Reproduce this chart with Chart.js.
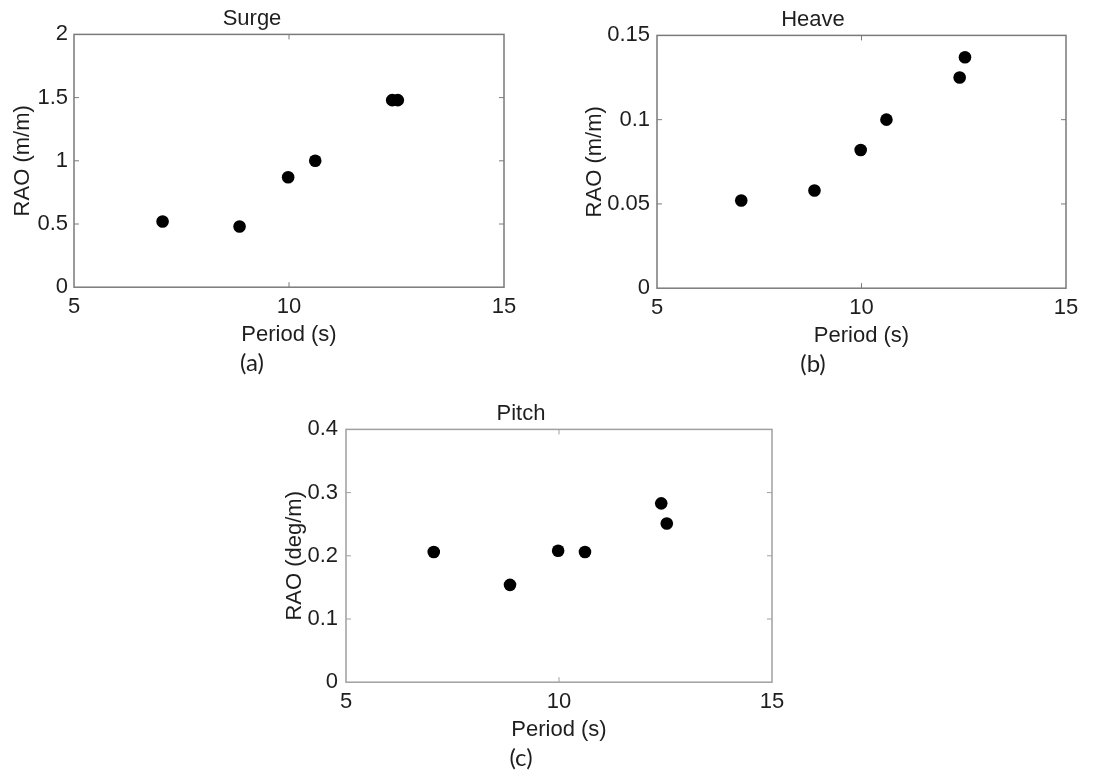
<!DOCTYPE html>
<html>
<head>
<meta charset="utf-8">
<title>RAO vs period</title>
<script src="https://cdn.jsdelivr.net/npm/chart.js@4/dist/chart.umd.min.js"></script>
<style>
  html, body { margin: 0; padding: 0; background: #ffffff; }
  #wrap { position: relative; width: 1102px; height: 780px; overflow: hidden; background: #ffffff; }
  #wrap canvas { position: absolute; }
</style>
</head>
<body>
<div id="wrap">
  <canvas id="surge" width="540" height="378" style="left:0px;top:0px"></canvas>
  <canvas id="heave" width="542" height="378" style="left:560px;top:1px"></canvas>
  <canvas id="pitch" width="538" height="378" style="left:270px;top:395px"></canvas>
</div>
<script>
// Wave periods of the test runs (s)
const periods = [7.06, 8.85, 9.98, 10.61, 12.4, 12.53];

// Measured response amplitude operators
const surgeRAO = [0.52, 0.48, 0.87, 1.0, 1.48, 1.48];     // m/m
const heaveRAO = [0.052, 0.058, 0.082, 0.1, 0.125, 0.137]; // m/m
const pitchRAO = [0.206, 0.154, 0.208, 0.206, 0.283, 0.251]; // deg/m

// Axis ticks
const periodTicks = [5, 10, 15];
const periodTickLabels = ['5', '10', '15'];
const surgeTicks = [0, 0.5, 1, 1.5, 2];
const surgeTickLabels = ['0', '0.5', '1', '1.5', '2'];
const heaveTicks = [0, 0.05, 0.1, 0.15];
const heaveTickLabels = ['0', '0.05', '0.1', '0.15'];
const pitchTicks = [0, 0.1, 0.2, 0.3, 0.4];
const pitchTickLabels = ['0', '0.1', '0.2', '0.3', '0.4'];

const TEXT = '#1e1e1e';
const FONT = 'Liberation Sans, Arial, Helvetica, sans-serif';

// Box around the plot area with small inward ticks on all four sides
const boxFrame = {
  id: 'boxFrame',
  afterDraw(chart, args, opts) {
    const { ctx, chartArea: a, scales } = chart;
    ctx.save();
    ctx.strokeStyle = opts.color;
    ctx.lineWidth = 1.5;
    ctx.strokeRect(a.left, a.top, a.right - a.left, a.bottom - a.top);
    const len = 5;
    ctx.lineWidth = 1;
    ctx.beginPath();
    scales.x.ticks.forEach(t => {
      const px = scales.x.getPixelForValue(t.value);
      if (px <= a.left + 1 || px >= a.right - 1) return;
      ctx.moveTo(px, a.bottom); ctx.lineTo(px, a.bottom - len);
      ctx.moveTo(px, a.top); ctx.lineTo(px, a.top + len);
    });
    scales.y.ticks.forEach(t => {
      const py = scales.y.getPixelForValue(t.value);
      if (py <= a.top + 1 || py >= a.bottom - 1) return;
      ctx.moveTo(a.left, py); ctx.lineTo(a.left + len, py);
      ctx.moveTo(a.right, py); ctx.lineTo(a.right - len, py);
    });
    ctx.stroke();
    ctx.restore();
  }
};

function fixedTicks(values) {
  return function (scale) {
    scale.ticks = values.map(v => ({ value: v }));
  };
}

function labelFor(values, labels) {
  return function (value) {
    const i = values.findIndex(v => Math.abs(v - value) < 1e-9);
    return i >= 0 ? labels[i] : '';
  };
}

function makePanel(id, cfg) {
  return new Chart(document.getElementById(id), {
    type: 'scatter',
    data: {
      datasets: [{
        data: periods.map((p, i) => ({ x: p, y: cfg.values[i] })),
        pointRadius: 6.3,
        pointHoverRadius: 6.3,
        pointBackgroundColor: '#000000',
        pointBorderWidth: 0,
        showLine: false
      }]
    },
    options: {
      responsive: false,
      animation: false,
      devicePixelRatio: 1,
      layout: { padding: { left: 0, right: 36, top: 0, bottom: 0 } },
      plugins: {
        legend: { display: false },
        tooltip: { enabled: false },
        title: {
          display: true,
          text: cfg.title,
          color: TEXT,
          font: { family: FONT, size: 22, weight: 'normal' },
          padding: { top: 6, bottom: 2 }
        },
        subtitle: {
          display: true,
          text: cfg.tag,
          position: 'bottom',
          color: TEXT,
          font: { family: 'Lato, Open Sans, sans-serif', size: 24, weight: 'normal' },
          padding: 0
        },
        boxFrame: { color: cfg.frame }
      },
      scales: {
        x: {
          type: 'linear',
          min: 5, max: 15,
          afterBuildTicks: fixedTicks(periodTicks),
          afterFit: s => { s.height = 62; },
          grid: { display: false, drawTicks: false },
          border: { display: false },
          ticks: {
            color: TEXT, padding: 7, maxRotation: 0,
            font: { family: FONT, size: 22 },
            callback: labelFor(periodTicks, periodTickLabels)
          },
          title: {
            display: true, text: 'Period (s)', color: TEXT,
            font: { family: FONT, size: 22 },
            padding: { top: 0, bottom: 1 }
          }
        },
        y: {
          type: 'linear',
          min: cfg.ticks[0], max: cfg.ticks[cfg.ticks.length - 1],
          afterBuildTicks: fixedTicks(cfg.ticks),
          afterFit: s => { s.width = cfg.yWidth; },
          grid: { display: false, drawTicks: false },
          border: { display: false },
          ticks: {
            color: TEXT, padding: cfg.tickPad,
            font: { family: FONT, size: 22 },
            callback: labelFor(cfg.ticks, cfg.labels)
          },
          title: {
            display: true, text: cfg.yTitle, color: TEXT,
            font: { family: FONT, size: 22 },
            padding: { top: cfg.titlePad, bottom: 0 }
          }
        }
      }
    },
    plugins: [boxFrame]
  });
}

makePanel('surge', {
  title: 'Surge', tag: '(a)', values: surgeRAO,
  ticks: surgeTicks, labels: surgeTickLabels,
  yTitle: 'RAO (m/m)', yWidth: 74, tickPad: 6, titlePad: 10, frame: '#7a7a7a'
});
makePanel('heave', {
  title: 'Heave', tag: '(b)', values: heaveRAO,
  ticks: heaveTicks, labels: heaveTickLabels,
  yTitle: 'RAO (m/m)', yWidth: 97, tickPad: 7, titlePad: 22, frame: '#7a7a7a'
});
makePanel('pitch', {
  title: 'Pitch', tag: '(c)', values: pitchRAO,
  ticks: pitchTicks, labels: pitchTickLabels,
  yTitle: 'RAO (deg/m)', yWidth: 76, tickPad: 8, titlePad: 12, frame: '#a0a0a0'
});
</script>
</body>
</html>
